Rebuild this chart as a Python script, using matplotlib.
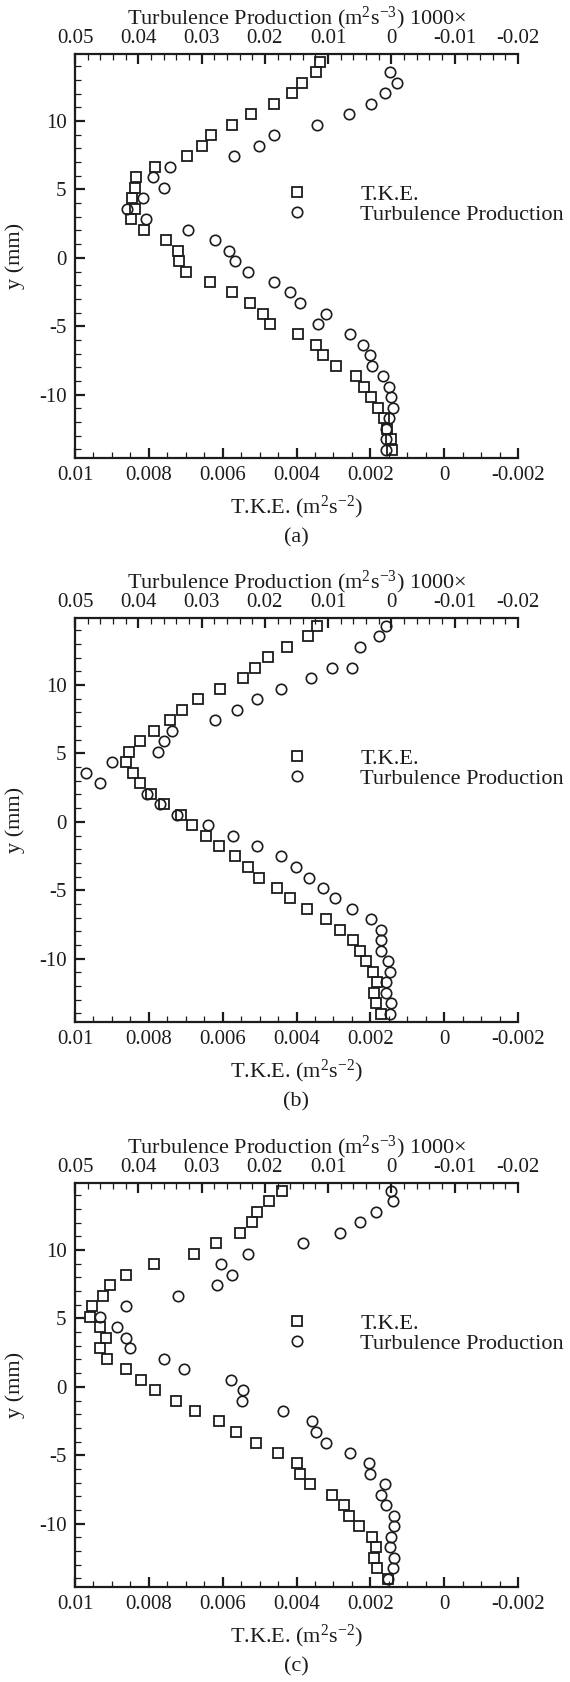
import matplotlib
matplotlib.use("Agg")
import matplotlib.pyplot as plt
from matplotlib import font_manager
from matplotlib.ticker import MultipleLocator, FuncFormatter

# pick a Times-like face that is actually installed
names = {f.name for f in font_manager.fontManager.ttflist}
serif = next((n for n in ['Liberation Serif', 'Times New Roman', 'Nimbus Roman', 'STIXGeneral']
              if n in names), 'DejaVu Serif')
plt.rcParams['font.family'] = [serif, 'STIXGeneral', 'DejaVu Serif']
plt.rcParams['mathtext.fontset'] = 'custom'
plt.rcParams['mathtext.rm'] = serif
plt.rcParams['mathtext.it'] = serif + ':italic'
plt.rcParams['axes.unicode_minus'] = False

# measurement positions (mm), top to bottom
y_grid = [14.3, 13.55, 12.8, 12.03, 11.27, 10.5, 9.73, 8.97, 8.2, 7.43,
          6.67, 5.9, 5.13, 4.37, 3.6, 2.83, 2.07, 1.3, 0.53, -0.23,
          -1.0, -1.77, -2.53, -3.3, -4.07, -4.83, -5.6, -6.37, -7.13, -7.9,
          -8.67, -9.43, -10.2, -10.97, -11.73, -12.5, -13.27, -14.03]

# (a)
tke_a = [0.00336, 0.00347, 0.00385, 0.00411, 0.00460, 0.00524, 0.00576, 0.00631, 0.00655, 0.00696,
         0.00782, 0.00834, 0.00838, 0.00846, 0.00837, 0.00848, 0.00812, 0.00753, 0.00720, 0.00718,
         0.00699, 0.00633, 0.00576, 0.00526, 0.00490, 0.00472, 0.00395, 0.00346, 0.00327, 0.00293,
         0.00240, 0.00216, 0.00197, 0.00178, 0.00163, 0.00154, 0.00145, 0.00142]
prod_y_a = [13.55, 12.8, 12.03, 11.27, 10.5, 9.73, 8.97, 8.2, 7.43,
            6.67, 5.9, 5.13, 4.37, 3.6, 2.83, 2.07, 1.3, 0.53, -0.23,
            -1.0, -1.77, -2.53, -3.3, -4.07, -4.83, -5.6, -6.37, -7.13, -7.9,
            -8.67, -9.43, -10.2, -10.97, -11.73, -12.5, -13.27, -14.03]
prod_a = [0.0002, -0.0009, 0.0010, 0.0033, 0.0067, 0.0118, 0.0185, 0.0209, 0.0249,
          0.0350, 0.0376, 0.0360, 0.0393, 0.0418, 0.0388, 0.0322, 0.0278, 0.0256, 0.0247,
          0.0226, 0.0186, 0.0161, 0.0144, 0.0104, 0.0116, 0.0066, 0.0045, 0.0034, 0.0031,
          0.0014, 0.0004, 0.0001, -0.0003, 0.0004, 0.0008, 0.0009, 0.0009]

# (b)
tke_b = [0.00344, 0.00370, 0.00427, 0.00478, 0.00512, 0.00546, 0.00608, 0.00666, 0.00711, 0.00744,
         0.00786, 0.00824, 0.00853, 0.00863, 0.00843, 0.00824, 0.00793, 0.00759, 0.00714, 0.00684,
         0.00644, 0.00609, 0.00567, 0.00531, 0.00502, 0.00453, 0.00418, 0.00372, 0.00320, 0.00283,
         0.00247, 0.00227, 0.00213, 0.00193, 0.00181, 0.00191, 0.00185, 0.00171]
prod_y_b = [14.3, 13.55, 12.8, 11.27, 11.27, 10.5, 9.73, 8.97, 8.2, 7.43,
            6.67, 5.9, 5.13, 4.37, 3.6, 2.83, 2.07, 1.3, 0.53, -0.23,
            -1.0, -1.77, -2.53, -3.3, -4.07, -4.83, -5.6, -6.37, -7.13, -7.9,
            -8.67, -9.43, -10.2, -10.97, -11.73, -12.5, -13.27, -14.03]
prod_b = [0.0008, 0.0020, 0.0049, 0.0094, 0.0063, 0.0127, 0.0175, 0.0213, 0.0244, 0.0279,
          0.0346, 0.0360, 0.0369, 0.0442, 0.0483, 0.0460, 0.0387, 0.0365, 0.0339, 0.0290,
          0.0250, 0.0213, 0.0175, 0.0151, 0.0131, 0.0108, 0.0089, 0.0063, 0.0032, 0.0017,
          0.0017, 0.0016, 0.0006, 0.0003, 0.0009, 0.0008, 0.0001, 0.0002]

# (c)
tke_c = [0.00438, 0.00474, 0.00506, 0.00520, 0.00552, 0.00618, 0.00679, 0.00785, 0.00862, 0.00905,
         0.00924, 0.00954, 0.00960, 0.00931, 0.00917, 0.00931, 0.00912, 0.00863, 0.00821, 0.00783,
         0.00726, 0.00674, 0.00610, 0.00563, 0.00510, 0.00450, 0.00400, 0.00391, 0.00364, 0.00304,
         0.00270, 0.00258, 0.00232, 0.00196, 0.00184, 0.00189, 0.00181, 0.00152]
prod_c = [0.0000, -0.0003, 0.0024, 0.0050, 0.0082, 0.0139, 0.0227, 0.0270, 0.0252, 0.0275,
          0.0338, 0.0420, 0.0460, 0.0434, 0.0419, 0.0413, 0.0359, 0.0328, 0.0253, 0.0234,
          0.0236, 0.0172, 0.0126, 0.0119, 0.0103, 0.0065, 0.0035, 0.0034, 0.0010, 0.0017,
          0.0009, -0.0004, -0.0004, 0.0001, 0.0002, -0.0004, -0.0002, 0.0005]

panels = [
    ("(a)", y_grid, tke_a, prod_y_a, prod_a, 54),
    ("(b)", y_grid, tke_b, prod_y_b, prod_b, 618),
    ("(c)", y_grid, tke_c, y_grid, prod_c, 1183),
]

W, H = 570, 1682
ink = '#1c1c1c'
fig = plt.figure(figsize=(W / 100, H / 100), dpi=100)


def fmt(v, pos):
    v = round(v, 6)
    if v == 0:
        return "0"
    return f"{v:g}"


for tag, ty, tke, py, prod, top in panels:
    left, right, height = 75, 518, 404
    ax = fig.add_axes([left / W, 1 - (top + height) / H, (right - left) / W, height / H])
    ax2 = ax.twiny()

    sq, = ax.plot(tke, ty, ls='none', marker='s', ms=7, mfc='none', mec=ink, mew=1.3)
    ci, = ax2.plot(prod, py, ls='none', marker='o', ms=7.5, mfc='none', mec=ink, mew=1.2)

    ax.set_xlim(0.01, -0.002)
    ax2.set_xlim(0.05, -0.02)
    ax.set_ylim(-14.63, 14.9)

    ax.xaxis.set_major_locator(MultipleLocator(0.002))
    ax.xaxis.set_minor_locator(MultipleLocator(0.0005))
    ax2.xaxis.set_major_locator(MultipleLocator(0.01))
    ax2.xaxis.set_minor_locator(MultipleLocator(0.002))
    ax.yaxis.set_major_locator(MultipleLocator(5))
    ax.yaxis.set_minor_locator(MultipleLocator(1))
    ax.xaxis.set_major_formatter(FuncFormatter(fmt))
    ax2.xaxis.set_major_formatter(FuncFormatter(fmt))

    for a in (ax, ax2):
        a.spines['right'].set_visible(False)
        for s in a.spines.values():
            s.set_linewidth(1.6)
            s.set_color(ink)
    ax.spines['top'].set_visible(False)
    ax2.spines['left'].set_visible(False)
    ax2.spines['bottom'].set_visible(False)

    ax.tick_params(axis='both', which='both', direction='in', colors=ink, labelsize=15, pad=6)
    ax.tick_params(which='major', length=7, width=1.6)
    ax.tick_params(which='minor', length=4, width=0.9)
    ax.tick_params(axis='x', which='both', top=False, labeltop=False)
    ax.tick_params(axis='y', which='both', right=False)
    ax2.tick_params(axis='x', which='both', direction='in', colors=ink, labelsize=15, pad=4)
    ax2.tick_params(axis='x', which='major', length=7, width=1.6)
    ax2.tick_params(axis='x', which='minor', length=4, width=0.9)

    ax.set_xlabel("T.K.E. (m$^{2}$s$^{-2}$)", fontsize=16, color=ink, labelpad=6)
    ax2.set_xlabel("Turbulence Production (m$^{2}$s$^{-3}$) 1000×", fontsize=16, color=ink, labelpad=4)
    ax.set_ylabel("y (mm)", fontsize=16, color=ink, labelpad=10)

    ax2.legend([sq, ci], ["T.K.E.", "Turbulence Production"], loc='center left',
               bbox_to_anchor=(0.451, 0.627), frameon=False, fontsize=16,
               handlelength=2, handletextpad=1.84, borderpad=0, borderaxespad=0,
               labelspacing=-0.05, labelcolor=ink)

    fig.text(0.5 * (left + right) / W, 1 - (top + height + 80) / H, tag,
             ha='center', va='center', fontsize=16, color=ink)

fig.savefig("out.png", dpi=100)
